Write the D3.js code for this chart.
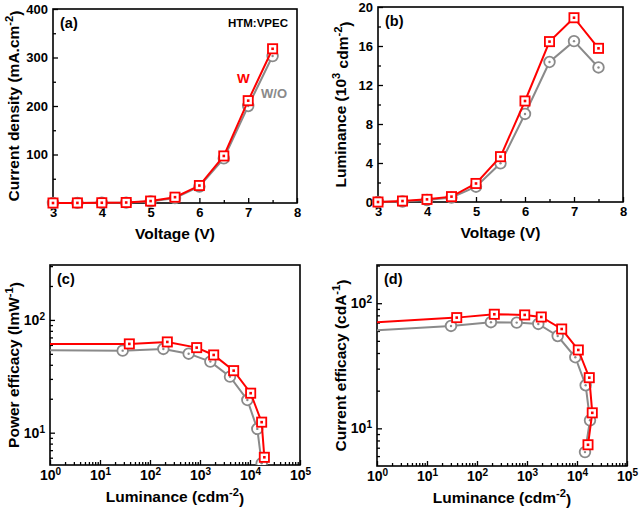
<!DOCTYPE html>
<html>
<head>
<meta charset="utf-8">
<script src="https://cdn.jsdelivr.net/npm/d3@7"></script>
<style>
  body { margin: 0; background: #fff; }
  svg { font-family: "Liberation Sans", Arial, sans-serif; font-weight: bold; }
</style>
</head>
<body>
<svg id="chart" width="640" height="509"></svg>
<script>
// ---- data ----
const voltage = [3, 3.5, 4, 4.5, 5, 5.5, 6, 6.5, 7, 7.5]
const jW  = [0, 0.2, 0.5, 1, 4, 12, 36, 97, 211, 318]
const jWO = [0, 0.2, 0.4, 0.8, 3, 10, 34, 92, 200, 303]
const lumW  = [0, 0.1, 0.27, 0.55, 1.9, 4.65, 10.36, 16.45, 18.9, 15.76]
const lumWO = [0, 0.05, 0.2, 0.45, 1.57, 3.97, 9.03, 14.36, 16.5, 13.8]

// power efficacy vs luminance (first point sits left of the axis, clipped)
const peLumW  = [0.5, 38.6, 222, 858, 1877, 4710, 10310, 17100, 19360]
const peW     = [61, 61.3, 63.8, 56.8, 48.9, 35.5, 22.4, 12.4, 6.05]
const peLumWO = [0.5, 28.4, 185, 593, 1610, 3980, 8850, 14000, 17100]
const peWO    = [54, 53.4, 55.3, 50.2, 42.7, 31.4, 19.5, 10.8, 5.35]

// current efficacy vs luminance
const ceLumW  = [0.3, 39.3, 222, 899, 1932, 4940, 10620, 17600, 20200, 16600]
const ceW     = [68.5, 76.7, 81.6, 80.6, 77.6, 62.2, 42.3, 25.4, 13.3, 7.39]
const ceLumWO = [0.3, 30.2, 190, 622, 1683, 4110, 9250, 14900, 18200, 14450]
const ceWO    = [59, 65.8, 70.5, 70, 68.3, 54.7, 37, 22.1, 11.6, 6.46]

const RED = '#ff0000'
const GRAY = '#8a8a8a'
const svg = d3.select('#chart')

function zip (xs, ys) { return xs.map((x, i) => ({x: x, y: ys[i]})) }

function addPanel (set) {
  const g = svg.append('g')
  const x = (set.xlog ? d3.scaleLog() : d3.scaleLinear()).domain(set.xdom).range([set.left, set.right])
  const y = (set.ylog ? d3.scaleLog() : d3.scaleLinear()).domain(set.ydom).range([set.bottom, set.top])
  const w = set.right - set.left, h = set.bottom - set.top

  const clipId = 'clip' + set.id
  svg.append('clipPath').attr('id', clipId)
    .append('rect').attr('x', set.left).attr('y', set.top).attr('width', w).attr('height', h)

  // minor ticks
  g.append('g').attr('transform', 'translate(0,' + set.bottom + ')')
    .call(d3.axisBottom(x).tickValues(set.xminor).tickSize(-3).tickFormat(''))
  g.append('g').attr('transform', 'translate(' + set.left + ',0)')
    .call(d3.axisLeft(y).tickValues(set.yminor).tickSize(-3).tickFormat(''))

  // major ticks
  const xa = g.append('g').attr('transform', 'translate(0,' + set.bottom + ')')
    .call(d3.axisBottom(x).tickValues(set.xticks).tickSize(-5).tickPadding(5)
      .tickFormat(set.xlog ? () => '' : d3.format('d')))
  const ya = g.append('g').attr('transform', 'translate(' + set.left + ',0)')
    .call(d3.axisLeft(y).tickValues(set.yticks).tickSize(-5).tickPadding(5)
      .tickFormat(set.ylog ? () => '' : d3.format('d')))

  ;[xa, ya].forEach((a, k) => {
    const isLog = k === 0 ? set.xlog : set.ylog
    a.selectAll('.tick text').attr('font-size', isLog ? 14 : 13).attr('font-weight', 'bold')
      .attr('font-family', '"Liberation Sans", Arial, sans-serif').attr('fill', '#000')
    if (isLog) {
      a.selectAll('.tick text').each(function (d) {
        const t = d3.select(this)
        t.append('tspan').text('10')
        t.append('tspan').attr('dy', '-0.5em').attr('font-size', '0.72em').text(Math.round(Math.log10(d)))
      })
    }
  })
  g.selectAll('.domain').remove()
  g.selectAll('.tick line').attr('stroke', '#000').attr('stroke-width', 1.3)

  // frame
  g.append('rect').attr('x', set.left).attr('y', set.top).attr('width', w).attr('height', h)
    .attr('fill', 'none').attr('stroke', '#000').attr('stroke-width', 1.6)

  // series
  const line = d3.line().x(d => x(d.x)).y(d => y(d.y))
  const plot = g.append('g')
  if (set.clip) plot.attr('clip-path', 'url(#' + clipId + ')')

  const wo = zip(set.xWO, set.yWO)
  const wi = zip(set.xW, set.yW)

  plot.append('path').attr('d', line(wo)).attr('fill', 'none').attr('stroke', GRAY).attr('stroke-width', 2)
  plot.selectAll('.cWO').data(wo).enter().append('circle').attr('class', 'cWO')
    .attr('cx', d => x(d.x)).attr('cy', d => y(d.y)).attr('r', 5.3)
    .attr('fill', '#fff').attr('stroke', GRAY).attr('stroke-width', 1.8)
  plot.selectAll('.dWO').data(wo).enter().append('circle').attr('class', 'dWO')
    .attr('cx', d => x(d.x)).attr('cy', d => y(d.y)).attr('r', 1.2).attr('fill', GRAY)

  plot.append('path').attr('d', line(wi)).attr('fill', 'none').attr('stroke', RED).attr('stroke-width', 2)
  plot.selectAll('.sW').data(wi).enter().append('rect').attr('class', 'sW')
    .attr('x', d => x(d.x) - 4.6).attr('y', d => y(d.y) - 4.6).attr('width', 9.2).attr('height', 9.2)
    .attr('fill', '#fff').attr('stroke', RED).attr('stroke-width', 1.8)
  plot.selectAll('.dW').data(wi).enter().append('rect').attr('class', 'dW')
    .attr('x', d => x(d.x) - 1.3).attr('y', d => y(d.y) - 1.3).attr('width', 2.6).attr('height', 2.6)
    .attr('fill', RED)

  // labels
  g.append('text').attr('x', set.left + 7).attr('y', set.top + 19).attr('font-size', 14.5).text(set.tag)

  const xt = g.append('text').attr('x', (set.left + set.right) / 2).attr('y', set.xtitleY)
    .attr('text-anchor', 'middle').attr('font-size', 15.5)
  set.xtitle.forEach(p => xt.append('tspan').attr('dy', p.dy || 0).attr('font-size', p.sup ? '0.72em' : null).text(p.t))

  const yt = g.append('text')
    .attr('transform', 'translate(' + set.ytitleX + ',' + (set.top + set.bottom) / 2 + ') rotate(-90)')
    .attr('text-anchor', 'middle').attr('font-size', 15.5)
  set.ytitle.forEach(p => yt.append('tspan').attr('dy', p.dy || 0).attr('font-size', p.sup ? '0.72em' : null).text(p.t))

  return {x: x, y: y, g: g}
}

const vMinor = [3.5, 4.5, 5.5, 6.5, 7.5]
const logMinorX = []
for (let e = 0; e < 5; e++) for (let m = 2; m <= 9; m++) logMinorX.push(m * Math.pow(10, e))

const lumTitle = [{t: 'Luminance (cdm'}, {t: '-2', sup: true, dy: '-0.55em'}, {t: ')', dy: '0.55em'}]
const voltTitle = [{t: 'Voltage (V)'}]

const a = addPanel({
  id: 'a', tag: '(a)', left: 53, right: 297, top: 9, bottom: 203,
  xdom: [3, 8], ydom: [0, 400], xticks: [3, 4, 5, 6, 7, 8], yticks: [100, 200, 300, 400],
  xminor: vMinor, yminor: [50, 150, 250, 350],
  xW: voltage, yW: jW, xWO: voltage, yWO: jWO,
  xtitle: voltTitle, xtitleY: 239, ytitleX: 19,
  ytitle: [{t: 'Current density (mA.cm'}, {t: '-2', sup: true, dy: '-0.55em'}, {t: ')', dy: '0.55em'}]
})
a.g.append('text').attr('x', 288).attr('y', 27).attr('text-anchor', 'end').attr('font-size', 11.5).text('HTM:VPEC')
a.g.append('text').attr('x', 237).attr('y', 83).attr('font-size', 13.5).attr('fill', RED).text('W')
a.g.append('text').attr('x', 261).attr('y', 98).attr('font-size', 13).attr('fill', GRAY).text('W/O')

addPanel({
  id: 'b', tag: '(b)', left: 378, right: 623, top: 7, bottom: 202,
  xdom: [3, 8], ydom: [0, 20], xticks: [3, 4, 5, 6, 7, 8], yticks: [0, 4, 8, 12, 16, 20],
  xminor: vMinor, yminor: [2, 6, 10, 14, 18],
  xW: voltage, yW: lumW, xWO: voltage, yWO: lumWO,
  xtitle: voltTitle, xtitleY: 238, ytitleX: 346,
  ytitle: [{t: 'Luminance (10'}, {t: '3', sup: true, dy: '-0.55em'}, {t: ' cdm', dy: '0.55em'},
    {t: '-2', sup: true, dy: '-0.55em'}, {t: ')', dy: '0.55em'}]
})

addPanel({
  id: 'c', tag: '(c)', left: 50, right: 300, top: 265, bottom: 465, xlog: true, ylog: true, clip: true,
  xdom: [1, 1e5], ydom: [5.17, 307], xticks: [1, 10, 100, 1e3, 1e4, 1e5], yticks: [10, 100],
  xminor: logMinorX, yminor: [6, 7, 8, 9, 20, 30, 40, 50, 60, 70, 80, 90, 200, 300],
  xW: peLumW, yW: peW, xWO: peLumWO, yWO: peWO,
  xtitle: lumTitle, xtitleY: 502, ytitleX: 19,
  ytitle: [{t: 'Power efficacy (lmW'}, {t: '-1', sup: true, dy: '-0.55em'}, {t: ')', dy: '0.55em'}]
})

addPanel({
  id: 'd', tag: '(d)', left: 377, right: 627, top: 265, bottom: 466, xlog: true, ylog: true, clip: true,
  xdom: [1, 1e5], ydom: [5, 202], xticks: [1, 10, 100, 1e3, 1e4, 1e5], yticks: [10, 100],
  xminor: logMinorX, yminor: [6, 7, 8, 9, 20, 30, 40, 50, 60, 70, 80, 90, 200],
  xW: ceLumW, yW: ceW, xWO: ceLumWO, yWO: ceWO,
  xtitle: lumTitle, xtitleY: 503, ytitleX: 346,
  ytitle: [{t: 'Current efficacy (cdA'}, {t: '-1', sup: true, dy: '-0.55em'}, {t: ')', dy: '0.55em'}]
})
</script>
</body>
</html>
